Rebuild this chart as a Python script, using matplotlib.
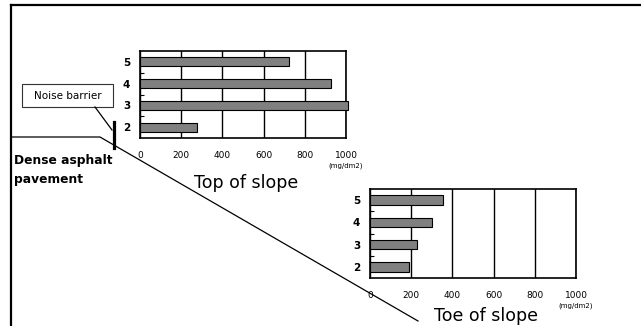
import matplotlib
matplotlib.use("Agg")
import matplotlib.pyplot as plt
from matplotlib.patches import Rectangle
from matplotlib.ticker import FixedLocator

# data (mg/dm2)
positions = ["2", "3", "4", "5"]
top_values = [275, 1010, 926, 723]
toe_values = [191, 230, 303, 356]
x_ticks = [0, 200, 400, 600, 800, 1000]

W, H = 641, 326
fig = plt.figure(figsize=(W / 100, H / 100), dpi=100)
plt.rcParams['font.family'] = ['DejaVu Sans']

# overlay in pixel coordinates for the sketch (frame, slope, barrier)
ov = fig.add_axes([0, 0, 1, 1])
ov.set_xlim(0, W)
ov.set_ylim(H, 0)
ov.axis("off")
ov.plot([11, W], [5, 5], color="black", lw=1.6)
ov.plot([11, 11], [5, H], color="black", lw=1.6)
ov.plot([11, 100, 418], [137, 137, 321], color="black", lw=0.9)
ov.plot([114, 114], [122, 148], color="black", lw=2.3)
ov.plot([95, 112], [107, 130], color="black", lw=0.9)
ov.add_patch(Rectangle((22, 84), 91, 23, fc="white", ec="#333333", lw=0.8))
ov.text(67.5, 96, "Noise barrier", ha="center", va="center", fontsize=7.5)
ov.text(14, 170, "Dense asphalt\npavement", ha="left", va="center",
        fontsize=8.8, fontweight="heavy", linespacing=1.6)
ov.text(246, 183, "Top of slope", ha="center", va="center", fontsize=12.5)
ov.text(486, 316, "Toe of slope", ha="center", va="center", fontsize=12.5)


def draw_panel(rect, values):
    ax = fig.add_axes(rect)
    y = range(len(positions))
    bars = ax.barh(y, values, height=0.42, color="#808080",
                   edgecolor="black", linewidth=0.8, zorder=3)
    for b in bars:
        b.set_clip_on(False)
    ax.set_xlim(0, 1000)
    ax.set_ylim(-0.5, len(positions) - 0.5)
    ax.set_xticks(x_ticks)
    ax.set_xticklabels([str(t) for t in x_ticks], fontsize=6.5)
    ax.set_yticks(list(y))
    ax.set_yticklabels(positions, fontsize=7.5, fontweight="bold")
    ax.yaxis.set_minor_locator(FixedLocator([0.5, 1.5, 2.5]))
    ax.tick_params(axis="y", which="major", length=0, pad=7)
    ax.tick_params(axis="y", which="minor", direction="in", length=3, width=0.8)
    ax.tick_params(axis="x", length=0, pad=9)
    ax.grid(axis="x", color="black", lw=1.0, zorder=1)
    for s in ax.spines.values():
        s.set_linewidth(1.2)
    ax.annotate("(mg/dm2)", xy=(1, 0), xycoords="axes fraction",
                xytext=(0, -20), textcoords="offset points",
                ha="center", va="center", fontsize=5)
    return ax


draw_panel([140 / W, (H - 138) / H, 206 / W, 87 / H], top_values)
draw_panel([370 / W, (H - 278) / H, 206 / W, 89 / H], toe_values)

fig.savefig("out.png", dpi=100, facecolor="white")
